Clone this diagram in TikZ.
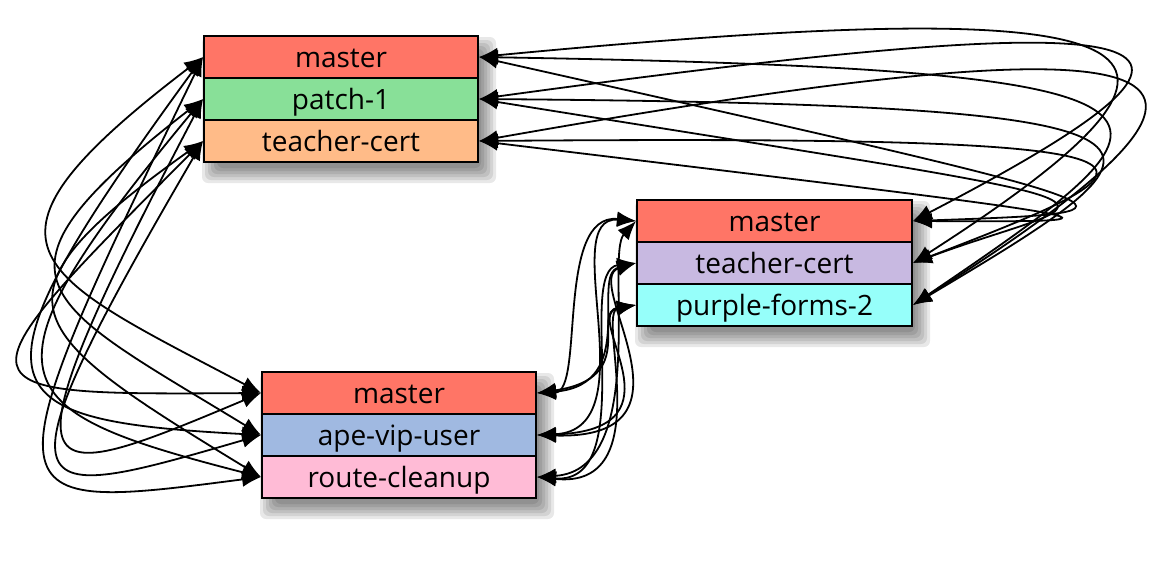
\documentclass[tikz,border=0pt]{standalone}
\usepackage{fontspec}
\setmainfont{Open Sans}
\usetikzlibrary{arrows.meta}
\definecolor{cmaster}{HTML}{FF7566}
\definecolor{cpatch}{HTML}{88E098}
\definecolor{cteachA}{HTML}{FFBB88}
\definecolor{cteachB}{HTML}{C8B9E1}
\definecolor{cpurple}{HTML}{96FFFA}
\definecolor{cape}{HTML}{A0B9E1}
\definecolor{croute}{HTML}{FFBBD6}
\begin{document}
\begin{tikzpicture}[x=1pt,y=-1pt,
  rowbox/.style={draw=black, line width=1.9pt, minimum width=274pt, minimum height=42pt, inner sep=0pt, text height=21pt, text depth=1pt, font=\fontsize{28}{34}\selectfont},
  lnk/.style={line width=1.8pt, {Latex[length=19pt,width=15pt]}-{Latex[length=19pt,width=15pt]}},
  shade/.style={fill=black, opacity=0.09, rounded corners=6pt}]
\useasboundingbox (0,0) rectangle (1152,576);
% shadows
\foreach \s in {-5,-2,1,4,7,10}{
  \fill[shade] ({204+8-(\s)},{36+11-(\s)}) rectangle ({478+8+(\s)},{162+11+(\s)});
  \fill[shade] ({637+8-(\s)},{200+11-(\s)}) rectangle ({912+8+(\s)},{326+11+(\s)});
  \fill[shade] ({262+8-(\s)},{372+11-(\s)}) rectangle ({536+8+(\s)},{498+11+(\s)});
}
% box A
\node[rowbox, fill=cmaster] (a1) at (341,57) {master};
\node[rowbox, fill=cpatch] (a2) at (341,99) {patch-1};
\node[rowbox, fill=cteachA] (a3) at (341,141) {teacher-cert};
% box B
\node[rowbox, minimum width=275pt, fill=cmaster] (b1) at (774.5,221) {master};
\node[rowbox, minimum width=275pt, fill=cteachB] (b2) at (774.5,263) {teacher-cert};
\node[rowbox, minimum width=275pt, fill=cpurple] (b3) at (774.5,305) {purple-forms-2};
% box C
\node[rowbox, fill=cmaster] (c1) at (399,393) {master};
\node[rowbox, fill=cape] (c2) at (399,435) {ape-vip-user};
\node[rowbox, fill=croute] (c3) at (399,477) {route-cleanup};
% A-C
\draw[lnk] (a1.west) .. controls (-46,247) and (32,272) .. (c1.west);
\draw[lnk] (a2.west) .. controls (-30,280) and (40,300) .. (c2.west);
\draw[lnk] (a3.west) .. controls (-20,300) and (20,330) .. (c3.west);
\draw[lnk] (a3.west) .. controls (-50,395) and (-50,395) .. (c1.west);
\draw[lnk] (a1.west) .. controls (-40,390) and (-20,420) .. (c2.west);
\draw[lnk] (a2.west) .. controls (-30,380) and (0,410) .. (c3.west);
\draw[lnk] (a1.west) .. controls (-20,515) and (-10,512) .. (c3.west);
\draw[lnk] (a2.west) .. controls (-10,505) and (30,490) .. (c1.west);
\draw[lnk] (a3.west) .. controls (-15,515) and (20,505) .. (c2.west);
% A-B
\draw[lnk] (a1.east) .. controls (1170,212) and (1170,212) .. (b1.east);
\draw[lnk] (a3.east) .. controls (1150,222) and (1150,222) .. (b1.east);
\draw[lnk] (a2.east) .. controls (1200,215) and (1110,190) .. (b2.east);
\draw[lnk] (a2.east) .. controls (1200,0) and (1280,30) .. (b1.east);
\draw[lnk] (a1.east) .. controls (1180,-10) and (1260,40) .. (b2.east);
\draw[lnk] (a3.east) .. controls (1220,10) and (1300,60) .. (b3.east);
\draw[lnk] (a1.east) .. controls (1250,70) and (1200,110) .. (b3.east);
\draw[lnk] (a2.east) .. controls (1240,105) and (1190,140) .. (b3.east);
\draw[lnk] (a3.east) .. controls (1230,135) and (1180,160) .. (b2.east);
% B-C
\draw[lnk] (b1.west) .. controls (555,212) and (585,392) .. (c1.east);
\draw[lnk] (b1.west) .. controls (555,215) and (650,430) .. (c2.east);
\draw[lnk] (b1.west) .. controls (605,255) and (650,470) .. (c3.east);
\draw[lnk] (b2.west) .. controls (590,275) and (640,385) .. (c1.east);
\draw[lnk] (b2.west) .. controls (580,280) and (710,440) .. (c2.east);
\draw[lnk] (b2.west) .. controls (575,270) and (640,485) .. (c3.east);
\draw[lnk] (b3.west) .. controls (590,312) and (640,378) .. (c1.east);
\draw[lnk] (b3.west) .. controls (580,315) and (690,430) .. (c2.east);
\draw[lnk] (b3.west) .. controls (595,312) and (660,490) .. (c3.east);
\end{tikzpicture}
\end{document}
